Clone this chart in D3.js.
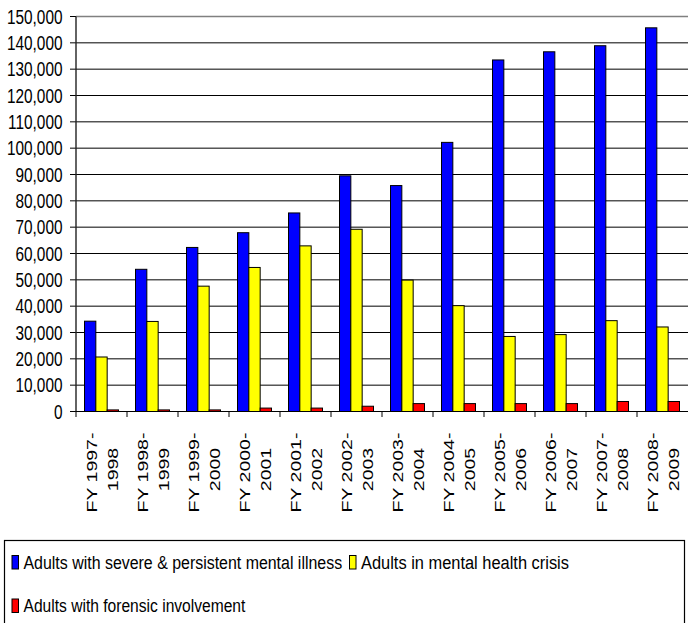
<!DOCTYPE html>
<html><head><meta charset="utf-8">
<script src="https://cdn.jsdelivr.net/npm/d3@7"></script>
<style>html,body{margin:0;padding:0;background:#fff;}svg{display:block;}</style>
</head><body>
<svg id="c" width="688" height="623"></svg>
<script>
const categories = ["1997","1998","1999","2000","2001","2002","2003","2004","2005","2006","2007","2008"];
const labelLine1 = ["FY 1997-","FY 1998-","FY 1999-","FY 2000-","FY 2001-","FY 2002-","FY 2003-","FY 2004-","FY 2005-","FY 2006-","FY 2007-","FY 2008-"];
const labelLine2 = ["1998","1999","2000","2001","2002","2003","2004","2005","2006","2007","2008","2009"];
const seriesNames = ["Adults with severe & persistent mental illness","Adults in mental health crisis","Adults with forensic involvement"];
const seriesColors = ["#0000FF","#FFFF00","#FF0000"];
const severe = [34300,54000,62300,67900,75400,89500,85800,102200,133500,136600,138900,145700];
const crisis = [20700,34200,47600,54700,62900,69200,49900,40200,28500,29200,34500,32100];
const forensic = [600,600,600,1300,1300,2000,3000,3000,3000,3000,3800,3800];
const yTicks = [0,10000,20000,30000,40000,50000,60000,70000,80000,90000,100000,110000,120000,130000,140000,150000];

const series = [severe, crisis, forensic];
const svg = d3.select("#c");
const SX = 0.77;
const font = "'Liberation Sans', Arial, sans-serif";

const x0 = d3.scaleBand().domain(categories).range([76, 688]).padding(0);
const x1 = d3.scaleBand().domain(d3.range(3)).range([8.5, 42.5]).padding(0);
const y = d3.scaleLinear().domain([0,150000]).range([411.5, 16.5]);

// gridlines
svg.append("g").selectAll("line").data(yTicks.filter(t=>t>0)).join("line")
  .attr("x1",76).attr("x2",688).attr("y1",d=>y(d)).attr("y2",d=>y(d))
  .attr("stroke",d=>d===150000?"#808080":"#000").attr("stroke-width",d=>d===150000?1.6:1);

// y tick marks & labels
const fmt = d3.format(",");
svg.append("g").selectAll("line").data(yTicks).join("line")
  .attr("x1",70).attr("x2",76).attr("y1",d=>y(d)).attr("y2",d=>y(d)).attr("stroke","#000");
svg.append("g").selectAll("text").data(yTicks).join("text")
  .attr("transform",d=>`translate(62.5,${y(d)}) scale(${SX},1)`)
  .attr("dy","0.36em").attr("text-anchor","end")
  .attr("font-family",font).attr("font-size",20).attr("fill","#000")
  .text(d=>fmt(d));

// bars
const g = svg.append("g").selectAll("g").data(categories).join("g")
  .attr("transform",d=>`translate(${x0(d)},0)`);
g.selectAll("rect").data((d,i)=>series.map((s,k)=>({k, v:s[i]}))).join("rect")
  .attr("x",d=>x1(d.k)).attr("width",x1.bandwidth())
  .attr("y",d=>y(d.v)).attr("height",d=>y(0)-y(d.v))
  .attr("fill",d=>seriesColors[d.k]).attr("stroke","#000").attr("stroke-width",1);

// axes lines
svg.append("line").attr("x1",76).attr("x2",76).attr("y1",16.5).attr("y2",411.5).attr("stroke","#222").attr("stroke-width",1.4);
svg.append("line").attr("x1",76).attr("x2",688).attr("y1",411.5).attr("y2",411.5).attr("stroke","#000").attr("stroke-width",1.2);
svg.append("g").selectAll("line").data(categories).join("line")
  .attr("x1",d=>x0(d)).attr("x2",d=>x0(d)).attr("y1",411.5).attr("y2",417).attr("stroke","#000");

// x labels (rotated)
const xl = svg.append("g").selectAll("g").data(categories).join("g")
  .attr("transform",d=>`translate(${x0(d)+x0.bandwidth()/2},471) scale(${SX},1) rotate(-90)`)
  .attr("font-family",font).attr("font-size",19.5).attr("fill","#000");
xl.append("text").attr("text-anchor","middle").attr("x",-1.5).attr("y",-5.8).text((d,i)=>labelLine1[i]);
xl.append("text").attr("text-anchor","middle").attr("x",1.5).attr("y",21.4).text((d,i)=>labelLine2[i]);

// legend
svg.append("rect").attr("x",4.5).attr("y",540.5).attr("width",680).attr("height",100)
  .attr("fill","#fff").attr("stroke","#000").attr("stroke-width",1.2);
const legendPos = [{x:11.5,y:568.5},{x:349,y:568.5},{x:11.5,y:612}];
const legendLen = [319,208,222];
const lg = svg.append("g").selectAll("g").data(seriesNames).join("g")
  .attr("transform",(d,i)=>`translate(${legendPos[i].x},${legendPos[i].y})`);
lg.append("rect").attr("x",0.5).attr("y",-13).attr("width",6.5).attr("height",13.5)
  .attr("fill",(d,i)=>seriesColors[i]).attr("stroke","#000").attr("stroke-width",1);
lg.append("text")
  .attr("font-family",font).attr("font-size",19).attr("fill","#000").text(d=>d)
  .each(function(d,i){
    const w = this.getComputedTextLength();
    d3.select(this).attr("transform",`translate(12,0) scale(${legendLen[i]/w},1)`);
  });
</script>
</body></html>
